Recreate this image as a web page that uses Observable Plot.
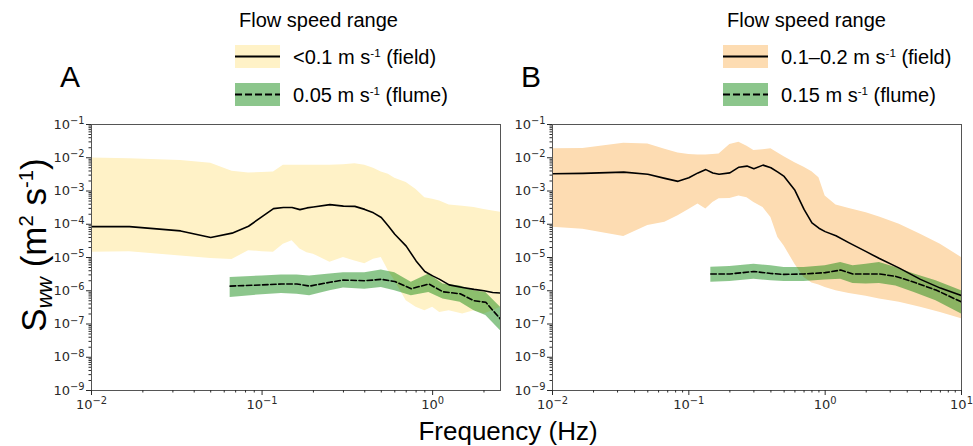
<!DOCTYPE html>
<html>
<head>
<meta charset="utf-8">
<script src="https://cdn.jsdelivr.net/npm/d3@7"></script>
<script src="https://cdn.jsdelivr.net/npm/@observablehq/plot@0.6"></script>
<style>
  body { margin: 0; background: #fff; }
  #fig { position: relative; width: 973px; height: 446px; overflow: hidden;
         font-family: "Liberation Sans", Arial, sans-serif; color: #000; }
  .abs { position: absolute; line-height: 1; white-space: nowrap; }
  .letter { font-size: 30px; }
  .legtitle { font-size: 20px; }
  .legrow { display: flex; align-items: center; font-size: 20px; }
  .legrow svg { margin-right: 13px; flex: none; }
  sup { font-size: 0.58em; vertical-align: 0.62em; line-height: 0; }
  sub { font-size: 0.62em; vertical-align: -0.28em; line-height: 0; }
  .xlabel { font-size: 26px; transform: translateX(-50%); }
  .ylabel { font-size: 35px; transform: translate(-50%, -50%) rotate(-90deg); }
</style>
</head>
<body>
<div id="fig"></div>
<script>
// ---- Panel A: field (<0.1 m/s) spectrum, mean and spread ----
const fieldA_f    = [0.01, 0.0167, 0.0333, 0.05, 0.0667, 0.0833, 0.1, 0.1167, 0.1333, 0.15, 0.1667, 0.1833, 0.2, 0.25, 0.3, 0.35, 0.4, 0.45, 0.5, 0.55, 0.6, 0.7, 0.8, 0.9, 1.0, 1.1, 1.25, 1.5, 1.75, 2.0, 2.25, 2.5];
const fieldA_mean = [8.5e-5, 8.5e-5, 6.3e-5, 4.0e-5, 5.4e-5, 8.7e-5, 1.7e-4, 2.95e-4, 3.2e-4, 3.2e-4, 2.75e-4, 3.1e-4, 3.3e-4, 3.9e-4, 3.5e-4, 3.45e-4, 2.8e-4, 2.2e-4, 1.6e-4, 8.9e-5, 5.0e-5, 2.2e-5, 7.9e-6, 3.8e-6, 2.8e-6, 2.2e-6, 1.5e-6, 1.26e-6, 1.1e-6, 1.0e-6, 8.9e-7, 8.5e-7];
const fieldA_hi   = [9.8e-3, 9.3e-3, 8.3e-3, 6.8e-3, 3.9e-3, 3.5e-3, 3.6e-3, 3.7e-3, 5.9e-3, 5.9e-3, 5.9e-3, 6.0e-3, 6.0e-3, 5.9e-3, 6.2e-3, 6.6e-3, 6.0e-3, 4.8e-3, 3.7e-3, 3.2e-3, 2.4e-3, 1.8e-3, 1.1e-3, 6.3e-4, 5.6e-4, 5.0e-4, 3.8e-4, 3.5e-4, 3.2e-4, 2.8e-4, 2.5e-4, 2.3e-4];
const fieldA_lo   = [1.45e-5, 1.5e-5, 1.1e-5, 9.3e-6, 8.7e-6, 1.6e-5, 1.5e-5, 1.45e-5, 2.5e-5, 3.2e-5, 1.8e-5, 1.4e-5, 1.26e-5, 7.2e-6, 1.0e-5, 7.9e-6, 6.5e-6, 8.9e-6, 1.0e-5, 4.0e-6, 2.0e-6, 5.0e-7, 3.2e-7, 2.5e-7, 3.2e-7, 2.2e-7, 2.5e-7, 2.0e-7, 2.5e-7, 2.0e-7, 2.5e-7, 3.2e-7];

// ---- Panel A: flume (0.05 m/s) spectrum ----
const flumeA_f    = [0.065, 0.1, 0.13, 0.16, 0.19, 0.25, 0.3, 0.4, 0.5, 0.6, 0.75, 0.95, 1.15, 1.45, 1.75, 2.05, 2.5];
const flumeA_mean = [1.38e-6, 1.5e-6, 1.6e-6, 1.6e-6, 1.38e-6, 1.8e-6, 2.1e-6, 2.0e-6, 2.2e-6, 1.9e-6, 1.15e-6, 1.6e-6, 9.3e-7, 8.1e-7, 5.0e-7, 4.5e-7, 1.4e-7];
const flumeA_hi   = [2.5e-6, 2.8e-6, 3.0e-6, 3.0e-6, 2.8e-6, 3.2e-6, 3.5e-6, 3.5e-6, 4.2e-6, 3.5e-6, 1.8e-6, 3.2e-6, 1.6e-6, 1.4e-6, 1.0e-6, 8.9e-7, 3.2e-7];
const flumeA_lo   = [6.3e-7, 7.6e-7, 8.3e-7, 7.9e-7, 7.1e-7, 1.0e-6, 1.2e-6, 1.1e-6, 1.26e-6, 1.0e-6, 7.1e-7, 8.9e-7, 5.6e-7, 4.5e-7, 2.5e-7, 1.8e-7, 6.3e-8];

// ---- Panel B: field (0.1–0.2 m/s) spectrum ----
const fieldB_f    = [0.01, 0.0167, 0.0333, 0.05, 0.0667, 0.0833, 0.1, 0.1167, 0.1333, 0.15, 0.1667, 0.2, 0.233, 0.267, 0.3, 0.35, 0.4, 0.45, 0.5, 0.6, 0.7, 0.8, 0.9, 1.0, 1.2, 1.5, 2.0, 2.5, 3.5, 5.0, 7.0, 10];
const fieldB_mean = [3.3e-3, 3.4e-3, 3.7e-3, 3.2e-3, 2.4e-3, 1.95e-3, 2.5e-3, 3.5e-3, 4.4e-3, 3.5e-3, 3.2e-3, 3.5e-3, 5.2e-3, 5.6e-3, 4.7e-3, 6.0e-3, 5.0e-3, 3.7e-3, 2.75e-3, 1.05e-3, 2.8e-4, 1.1e-4, 7.6e-5, 6.0e-5, 4.5e-5, 2.75e-5, 1.5e-5, 9.3e-6, 4.8e-6, 2.2e-6, 1.2e-6, 7.2e-7];
const fieldB_hi   = [1.86e-2, 1.9e-2, 2.75e-2, 2.6e-2, 1.8e-2, 1.4e-2, 1.26e-2, 1.2e-2, 1.2e-2, 1.26e-2, 1.3e-2, 2.5e-2, 2.95e-2, 2.2e-2, 1.66e-2, 1.74e-2, 1.86e-2, 1.4e-2, 1.07e-2, 7.1e-3, 5.2e-3, 3.8e-3, 2.5e-3, 7.1e-4, 3.8e-4, 3.0e-4, 2.2e-4, 1.66e-4, 1.0e-4, 5.0e-5, 2.5e-5, 1.0e-5];
const fieldB_lo   = [8.1e-5, 7.1e-5, 4.3e-5, 9.1e-5, 1.15e-4, 1.8e-4, 2.8e-4, 4.1e-4, 2.9e-4, 4.5e-4, 5.8e-4, 6.0e-4, 7.1e-4, 6.3e-4, 4.5e-4, 3.2e-4, 1.6e-4, 4.0e-5, 2.2e-5, 6.3e-6, 2.5e-6, 1.7e-6, 1.5e-6, 1.26e-6, 1.0e-6, 8.3e-7, 6.8e-7, 5.6e-7, 4.5e-7, 3.2e-7, 2.2e-7, 1.45e-7];

// ---- Panel B: flume (0.15 m/s) spectrum ----
const flumeB_f    = [0.145, 0.2, 0.3, 0.4, 0.5, 0.7, 1.0, 1.3, 1.6, 2.0, 2.5, 3.3, 4.5, 6.5, 10];
const flumeB_mean = [3.2e-6, 3.2e-6, 3.8e-6, 3.3e-6, 3.1e-6, 3.2e-6, 3.5e-6, 4.2e-6, 3.2e-6, 3.2e-6, 3.2e-6, 2.7e-6, 1.8e-6, 1.05e-6, 4.6e-7];
const flumeB_hi   = [5.1e-6, 5.4e-6, 6.3e-6, 5.6e-6, 5.0e-6, 5.0e-6, 5.6e-6, 7.1e-6, 5.6e-6, 6.3e-6, 7.1e-6, 5.0e-6, 3.2e-6, 2.0e-6, 1.0e-6];
const flumeB_lo   = [1.8e-6, 1.9e-6, 2.2e-6, 2.0e-6, 1.9e-6, 1.9e-6, 2.1e-6, 2.2e-6, 1.66e-6, 1.6e-6, 1.66e-6, 1.4e-6, 8.9e-7, 5.0e-7, 2.0e-7];

// ---- Axis ticks and labels ----
const yMajor = [1e-9, 1e-8, 1e-7, 1e-6, 1e-5, 1e-4, 1e-3, 1e-2, 1e-1];
const xMajorA = [1e-2, 1e-1, 1e0];
const xMajorB = [1e-2, 1e-1, 1e0, 1e1];
const minorSteps = [2, 3, 4, 5, 6, 7, 8, 9];

const panelLetters = ["A", "B"];
const legendTitle = "Flow speed range";
const legendA = ["<0.1 m s<sup>-1</sup> (field)", "0.05 m s<sup>-1</sup> (flume)"];
const legendB = ["0.1–0.2 m s<sup>-1</sup> (field)", "0.15 m s<sup>-1</sup> (flume)"];
const fieldFills = ["#FFF2C7", "#FDDCB2"];
const flumeFill = "green";

// "10^e" — the exponent is turned into a raised tspan after rendering
const pow10 = v => "10^" + Math.round(Math.log10(v));

function raiseExponents(svg) {
  const ns = "http://www.w3.org/2000/svg";
  svg.querySelectorAll("text").forEach(t => {
    const s = t.textContent;
    if (!s || s.indexOf("^") < 0) return;
    const [base, exp] = s.split("^");
    t.textContent = base;
    const ts = document.createElementNS(ns, "tspan");
    ts.setAttribute("dy", "-0.45em");
    ts.setAttribute("font-size", "0.76em");
    ts.textContent = exp.replace("-", "\u2212");
    t.appendChild(ts);
  });
  return svg;
}

function minorTicks(majors, lo, hi) {
  const out = [];
  for (const m of majors) for (const k of minorSteps) {
    const v = m * k;
    if (v > lo && v < hi) out.push(v);
  }
  return out;
}

function rows(f, mean, lo, hi) {
  return f.map((x, i) => ({f: x, mean: mean[i], lo: lo[i], hi: hi[i]}));
}

function panel({xDomain, xMajor, field, flume, fieldFill, width, marginLeft}) {
  const yMinor = minorTicks(yMajor, 1e-9, 1e-1);
  const xMinor = minorTicks(xMajor, xDomain[0], xDomain[1]);
  const svg = Plot.plot({
    width, height: 310,
    marginTop: 14, marginBottom: 30, marginLeft, marginRight: 12,
    style: {fontFamily: "'DejaVu Sans', sans-serif", fontSize: "13px", color: "#2a2a2a", background: "transparent", overflow: "visible"},
    x: {type: "log", domain: xDomain},
    y: {type: "log", domain: [1e-9, 1e-1]},
    marks: [
      Plot.areaY(field, {x: "f", y1: "lo", y2: "hi", fill: fieldFill, curve: "linear", clip: true}),
      Plot.areaY(flume, {x: "f", y1: "lo", y2: "hi", fill: flumeFill, fillOpacity: 0.45, curve: "linear", clip: true}),
      Plot.lineY(field, {x: "f", y: "mean", stroke: "#000", strokeWidth: 1.6, clip: true}),
      Plot.lineY(flume, {x: "f", y: "mean", stroke: "#000", strokeWidth: 1.6, strokeDasharray: "5.5,2.6", clip: true}),
      Plot.frame({stroke: "#555", strokeWidth: 1}),
      Plot.axisX({ticks: xMinor, tickSize: 2.5, tickFormat: () => "", label: null}),
      Plot.axisX({ticks: xMajor, tickSize: 5, tickPadding: 4, tickFormat: pow10, label: null}),
      Plot.axisY({ticks: yMinor, tickSize: 2.5, tickFormat: () => "", label: null}),
      Plot.axisY({ticks: yMajor, tickSize: 5, tickPadding: 2, tickFormat: pow10, label: null})
    ]
  });
  return raiseExponents(svg);
}

const fig = document.getElementById("fig");

function place(el, left, top) {
  el.style.position = "absolute";
  el.style.left = left + "px";
  el.style.top = top + "px";
  fig.appendChild(el);
  return el;
}

function html(cls, content, left, top) {
  const d = document.createElement("div");
  d.className = "abs " + cls;
  d.innerHTML = content;
  return place(d, left, top);
}

function swatch(fill, opacity, dashed) {
  const ns = "http://www.w3.org/2000/svg";
  const s = document.createElementNS(ns, "svg");
  s.setAttribute("width", 45); s.setAttribute("height", 23);
  const r = document.createElementNS(ns, "rect");
  r.setAttribute("width", 45); r.setAttribute("height", 23);
  r.setAttribute("fill", fill); r.setAttribute("fill-opacity", opacity);
  const l = document.createElementNS(ns, "line");
  l.setAttribute("x1", 0); l.setAttribute("x2", 45); l.setAttribute("y1", 11.5); l.setAttribute("y2", 11.5);
  l.setAttribute("stroke", "#000"); l.setAttribute("stroke-width", 2.2);
  if (dashed) l.setAttribute("stroke-dasharray", "7,3");
  s.appendChild(r); s.appendChild(l);
  return s;
}

function legend(left, labels, fieldFill) {
  html("legtitle", legendTitle, left + 4, 10);
  const entries = [[fieldFill, 1, false], [flumeFill, 0.45, true]];
  labels.forEach((lab, i) => {
    const row = document.createElement("div");
    row.className = "abs legrow";
    row.appendChild(swatch(...entries[i]));
    const t = document.createElement("span");
    t.innerHTML = lab;
    row.appendChild(t);
    place(row, left, i === 0 ? 45 : 83);
  });
}

// Panel A
place(panel({
  xDomain: [0.01, 2.5], xMajor: xMajorA,
  field: rows(fieldA_f, fieldA_mean, fieldA_lo, fieldA_hi),
  flume: rows(flumeA_f, flumeA_mean, flumeA_lo, flumeA_hi),
  fieldFill: fieldFills[0], width: 512, marginLeft: 91
}), 0, 110);

// Panel B
place(panel({
  xDomain: [0.01, 10], xMajor: xMajorB,
  field: rows(fieldB_f, fieldB_mean, fieldB_lo, fieldB_hi),
  flume: rows(flumeB_f, flumeB_mean, flumeB_lo, flumeB_hi),
  fieldFill: fieldFills[1], width: 473, marginLeft: 52
}), 500, 110);

html("letter", panelLetters[0], 60, 62);
html("letter", panelLetters[1], 521, 62);
legend(235, legendA, fieldFills[0]);
legend(723, legendB, fieldFills[1]);

html("xlabel", "Frequency (Hz)", 508, 418);
html("ylabel", "S<sub><i>ww</i></sub> (m<sup>2</sup> s<sup>-1</sup>)", 33, 245);
</script>
</body>
</html>
